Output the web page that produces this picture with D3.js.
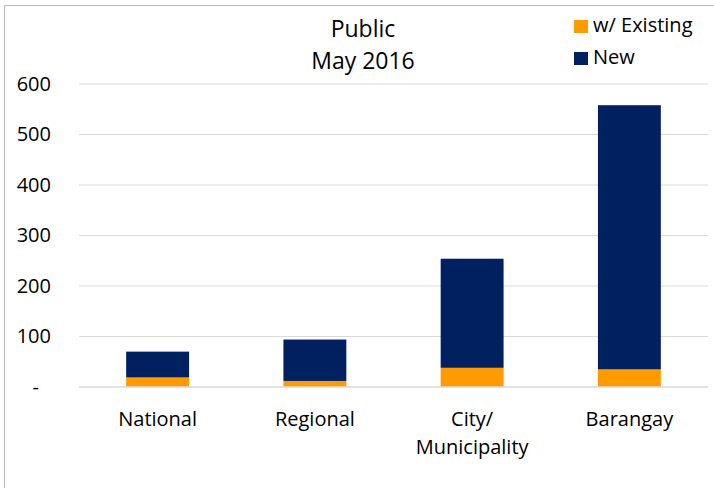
<!DOCTYPE html>
<html>
<head>
<meta charset="utf-8">
<script src="https://cdn.jsdelivr.net/npm/d3@7"></script>
<style>
  body { margin: 0; background: #fff; }
  text { font-family: "Open Sans", sans-serif; fill: #000; }
</style>
</head>
<body>
<div id="svg_div"><svg width="714" height="488"></svg></div>
<script>
// Chart data
var categories = ["National", "Regional", "City/\nMunicipality", "Barangay"];
var existing = [19, 12, 38, 35];
var newOnes = [51, 82, 216, 523];
var yTicks = [0, 100, 200, 300, 400, 500, 600];
var seriesNames = ["w/ Existing", "New"];
var colors = ["#FF9A00", "#002060"];

var svg = d3.select("#svg_div").select("svg");
var svgWidth = +svg.attr("width");
var svgHeight = +svg.attr("height");

// Chart border (left and top edges visible)
svg.append("rect")
    .attr("x", 4.5).attr("y", 5.5)
    .attr("width", svgWidth + 10).attr("height", svgHeight + 10)
    .attr("fill", "none")
    .attr("stroke", "#BFBFBF")
    .attr("stroke-width", 1.2);

var margin = {top: 84, left: 79, bottom: 101, right: 6};
var width = svgWidth - margin.left - margin.right;
var height = svgHeight - margin.top - margin.bottom;

var g = svg.append("g")
    .attr("transform", "translate(" + [margin.left, margin.top] + ")");

var xScale = d3.scaleBand()
    .domain(categories)
    .range([0, width])
    .paddingInner(0.6)
    .paddingOuter(0.3);

var yScale = d3.scaleLinear()
    .domain([0, 600])
    .range([height, 0]);

// Gridlines
g.selectAll(".grid")
    .data(yTicks.slice(1))
    .enter().append("line")
    .attr("class", "grid")
    .attr("x1", 0).attr("x2", width)
    .attr("y1", function(d) { return yScale(d); })
    .attr("y2", function(d) { return yScale(d); })
    .attr("stroke", "#D9D9D9")
    .attr("stroke-width", 1);

// Y axis labels
var yAxis = d3.axisLeft(yScale)
    .tickValues(yTicks)
    .tickSize(0)
    .tickPadding(28)
    .tickFormat(function(d) { return d === 0 ? "-" : d; });

var yAxisG = g.append("g").call(yAxis);
yAxisG.select(".domain").remove();
yAxisG.selectAll("text")
    .style("font-size", "20px")
    .style("font-family", "'Open Sans', sans-serif");
yAxisG.selectAll(".tick").filter(function(d) { return d === 0; })
    .select("text").attr("dx", -12);

// Stacked bars
var stackData = categories.map(function(c, i) {
    return {cat: c, existing: existing[i], newOnes: newOnes[i]};
});
var stack = d3.stack().keys(["existing", "newOnes"]);
var layers = stack(stackData);

g.selectAll(".layer")
    .data(layers)
    .enter().append("g")
    .attr("class", "layer")
    .attr("fill", function(d, i) { return colors[i]; })
    .selectAll("rect")
    .data(function(d) { return d; })
    .enter().append("rect")
    .attr("x", function(d) { return xScale(d.data.cat); })
    .attr("width", xScale.bandwidth())
    .attr("y", function(d) { return yScale(d[1]); })
    .attr("height", function(d) { return yScale(d[0]) - yScale(d[1]); });

// X axis line
g.append("line")
    .attr("x1", 0).attr("x2", width)
    .attr("y1", height).attr("y2", height)
    .attr("stroke", "#D9D9D9")
    .attr("stroke-width", 1.5);

// X axis labels
var xLabels = g.selectAll(".xlabel")
    .data(categories)
    .enter().append("text")
    .attr("class", "xlabel")
    .attr("text-anchor", "middle")
    .attr("transform", function(d) {
        return "translate(" + [xScale(d) + xScale.bandwidth() / 2, height + 39] + ")";
    })
    .style("font-size", "20px");

xLabels.selectAll("tspan")
    .data(function(d) { return d.split("\n"); })
    .enter().append("tspan")
    .attr("x", 0)
    .attr("dy", function(d, i) { return i === 0 ? 0 : 28; })
    .text(function(d) { return d; });

// Title
var title = svg.append("text")
    .attr("text-anchor", "middle")
    .attr("x", 363)
    .attr("y", 37)
    .style("font-size", "23px");
title.append("tspan").attr("x", 363).text("Public");
title.append("tspan").attr("x", 363).attr("dy", 32).text("May 2016");

// Legend
var legend = svg.selectAll(".legend")
    .data(seriesNames)
    .enter().append("g")
    .attr("class", "legend")
    .attr("transform", function(d, i) { return "translate(" + [574, 20 + i * 32] + ")"; });

legend.append("rect")
    .attr("width", 14).attr("height", 13)
    .attr("fill", function(d, i) { return colors[i]; });

legend.append("text")
    .attr("x", 19).attr("y", 12)
    .style("font-size", "20px")
    .text(function(d) { return d; });
</script>
</body>
</html>
